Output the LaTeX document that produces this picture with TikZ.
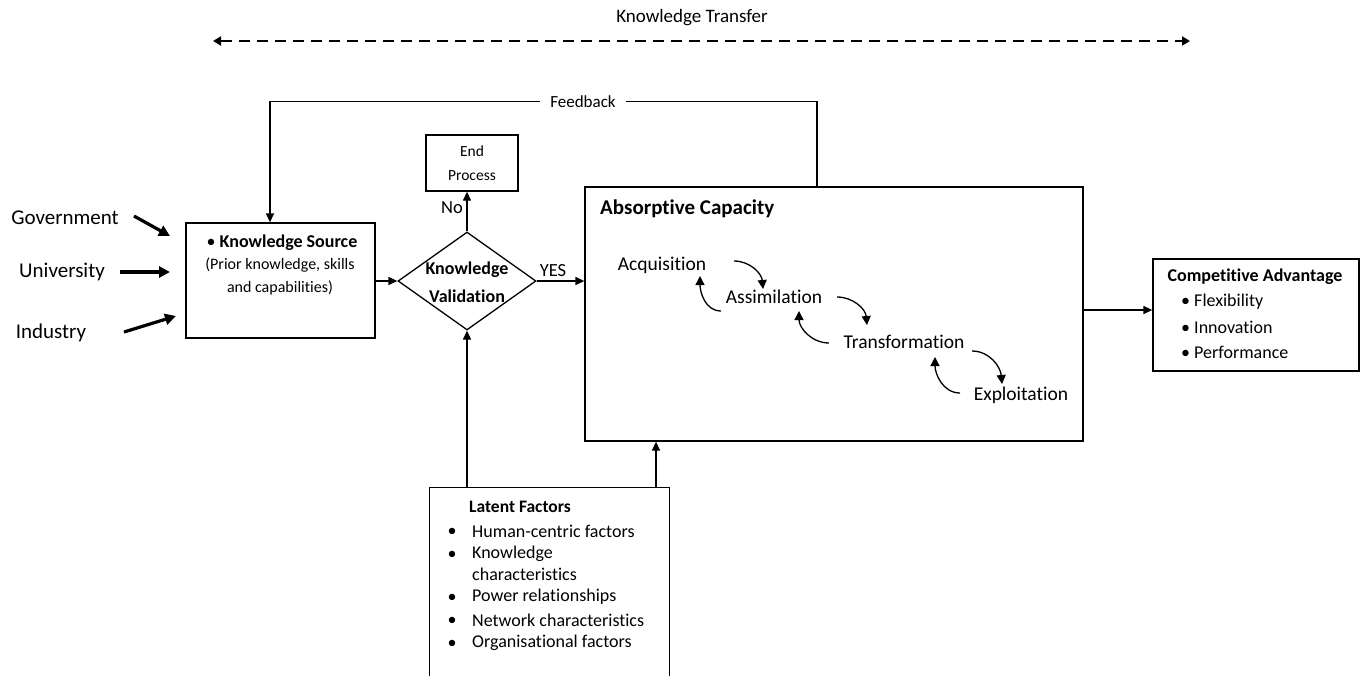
\documentclass[tikz,border=0pt]{standalone}
\usepackage{fontspec}
\setmainfont{Carlito}[RawFeature={-liga;-clig;-dlig}]
\usetikzlibrary{arrows.meta,shapes.geometric}
\newcommand\fsz[1]{\fontsize{#1pt}{#1pt}\selectfont}
\begin{document}
\begin{tikzpicture}[x=1pt,y=-1pt,
  box/.style={draw, line width=1.3pt, inner sep=0pt},
  txt/.style={inner sep=0pt},
  conn/.style={line width=1.3pt, -{Triangle[length=9pt,width=8pt]}},
  fat/.style={line width=3.2pt, -{Triangle[length=11pt,width=11pt]}},
  turn/.style={line width=1.3pt, -{Triangle[length=9pt,width=9pt]}},
  transfer/.style={line width=2.8pt, dash pattern=on 11pt off 7pt,
    {Triangle[length=8pt,width=9pt]}-{Triangle[length=8pt,width=9pt]}}]
\useasboundingbox (0,0) rectangle (1363,675);

% Knowledge transfer
\node[txt] (kt) at (692,18) {\fsz{19}Knowledge Transfer};
\coordinate (ktl) at (213,41);
\coordinate (ktr) at (1190,41);
\draw[transfer] (ktl) -- (ktr);

% sources
\node[txt] (gov) at (65,218) {\fsz{21}Government};
\node[txt] (uni) at (62,272) {\fsz{21}University};
\node[txt] (ind) at (51,333) {\fsz{21}Industry};
\coordinate (g0) at (134,216);
\coordinate (g1) at (170,236);
\coordinate (u0) at (120,272);
\coordinate (u1) at (170,272);
\coordinate (i0) at (124,332);
\coordinate (i1) at (176,316);
\draw[fat] (g0) -- (g1);
\draw[fat] (u0) -- (u1);
\draw[fat] (i0) -- (i1);

% knowledge source
\node[box, minimum width=189pt, minimum height=115pt] (ks) at (280.5,280.5) {};
\node[txt] (kst) at (282,243) {\fsz{18}\textbullet\ \textbf{Knowledge Source}};
\node[txt] (ks1) at (280,265) {\fsz{16}(Prior knowledge, skills};
\node[txt] (ks2) at (280,288) {\fsz{16}and capabilities)};

% validation
\node[draw, diamond, line width=1.3pt, minimum width=138pt, minimum height=98pt, inner sep=0pt] (kv) at (467,281) {};
\node[txt] (kv1) at (467,270) {\fsz{18}\textbf{Knowledge}};
\node[txt] (kv2) at (467,296) {\fsz{18}\textbf{Validation}};

% end process
\node[box, minimum width=92pt, minimum height=56pt] (end) at (472,163) {};
\node[txt] (end1) at (472,151) {\fsz{15.5}End};
\node[txt] (end2) at (472,176) {\fsz{15.5}Process};

% absorptive capacity
\node[box, minimum width=498pt, minimum height=254pt] (ac) at (834,314) {};
\node[txt, anchor=west] (act) at (600,209) {\fsz{21}\textbf{Absorptive Capacity}};
\node[txt] (acq) at (662,265) {\fsz{19.5}Acquisition};
\node[txt] (ass) at (774,297) {\fsz{19.5}Assimilation};
\node[txt] (tra) at (904,342) {\fsz{19.5}Transformation};
\node[txt] (exp) at (1021,395) {\fsz{19.5}Exploitation};

\coordinate (f1a) at (734,261); \coordinate (f1b) at (763,289);
\coordinate (f2a) at (837,297); \coordinate (f2b) at (867,325);
\coordinate (f3a) at (972,351); \coordinate (f3b) at (1002,384);
\coordinate (b1a) at (721,311); \coordinate (b1b) at (700,276);
\coordinate (b2a) at (829,343); \coordinate (b2b) at (799,311);
\coordinate (b3a) at (960,393); \coordinate (b3b) at (935,357);
\draw[turn] (f1a) to[out=0,in=95] (f1b);
\draw[turn] (f2a) to[out=0,in=95] (f2b);
\draw[turn] (f3a) to[out=0,in=95] (f3b);
\draw[turn] (b1a) to[out=180,in=-90] (b1b);
\draw[turn] (b2a) to[out=180,in=-90] (b2b);
\draw[turn] (b3a) to[out=180,in=-90] (b3b);

% competitive advantage
\node[box, minimum width=206pt, minimum height=112pt] (ca) at (1256,315) {};
\node[txt] (cat) at (1255,277) {\fsz{18}\textbf{Competitive Advantage}};
\node[txt, anchor=west] (ca1) at (1181,302) {\fsz{18}\textbullet\ Flexibility};
\node[txt, anchor=west] (ca2) at (1181,327) {\fsz{18}\textbullet\ Innovation};
\node[txt, anchor=west] (ca3) at (1181,352) {\fsz{18}\textbullet\ Performance};

% latent factors
\node[minimum width=239pt, minimum height=188pt, inner sep=0pt] (lf) at (549.5,582) {};
\draw[line width=1.3pt] ([yshift=-3pt]lf.south west) -- (lf.north west) -- (lf.north east) -- ([yshift=-3pt]lf.south east);
\node[txt, anchor=west] (lft) at (469,507) {\fsz{17.5}\textbf{Latent Factors}};
\foreach \y in {532,555,598,621,644} {\node[txt] at (452,\y) {\fsz{18}\textbullet};}
\node[txt, anchor=west] (l1) at (472,531) {\fsz{18}Human-centric factors};
\node[txt, anchor=west] (l2) at (472,554) {\fsz{18}Knowledge};
\node[txt, anchor=west] (l3) at (472,574) {\fsz{18}characteristics};
\node[txt, anchor=west] (l4) at (472,597) {\fsz{18}Power relationships};
\node[txt, anchor=west] (l5) at (472,620) {\fsz{18}Network characteristics};
\node[txt, anchor=west] (l6) at (472,643) {\fsz{18}Organisational factors};

% connectors
\draw[conn] (ks.east |- kv.west) -- (kv.west);
\draw[conn] (kv.north) -- (end.south -| kv.north);
\node[txt] (no) at (452,208) {\fsz{18.5}No};
\draw[conn] (kv.east) -- (ac.west |- kv.east);
\node[txt] (yes) at (553,271) {\fsz{18.5}YES};
\draw[conn] (ac.east |- 0,310) -- (ca.west |- 0,310);
\draw[conn] (lf.north -| kv.south) -- (kv.south);
\draw[conn] (lf.north -| 656,0) -- (ac.south -| 656,0);
\draw[conn] ([xshift=-17pt]ac.north) -- ++(0,-85) -| ([xshift=-10.5pt]ks.north);
\node[txt, fill=white, inner xsep=10pt, inner ysep=2pt] (fb) at (583,102) {\fsz{17}Feedback};
\end{tikzpicture}
\end{document}
